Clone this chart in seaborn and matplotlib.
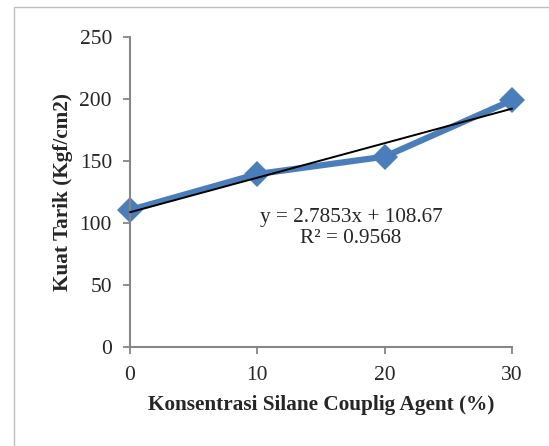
import numpy as np
import pandas as pd
import matplotlib
matplotlib.use("Agg")
import matplotlib.pyplot as plt
from matplotlib.patches import Rectangle
import seaborn as sns

# data
konsentrasi = [0, 10, 20, 30]
kuat_tarik = [110.5, 139.5, 153.5, 199.0]
slope = 2.7853
intercept = 108.67
persamaan = "y = 2.7853x + 108.67"
r_kuadrat = "R² = 0.9568"
y_ticks = [0, 50, 100, 150, 200, 250]
x_ticks = [0, 10, 20, 30]

sns.set_style("white")
plt.rcParams['font.family'] = ['Liberation Serif', 'DejaVu Serif']

df = pd.DataFrame({"x": konsentrasi, "y": kuat_tarik})

fig = plt.figure(figsize=(5.49, 4.46), dpi=100)
ax = fig.add_axes([0.2368, 0.222, 0.6958, 0.695])

# outer chart border
fig.patches.append(Rectangle((0.026, -0.1), 1.1, 1.084, transform=fig.transFigure,
                             fill=False, edgecolor="#BFBFBF", linewidth=1.0))

sns.lineplot(data=df, x="x", y="y", ax=ax, color="#4A7EBB", linewidth=4.5,
             marker="D", markersize=13, markeredgewidth=0, zorder=2, clip_on=False)

xt = np.array([konsentrasi[0], konsentrasi[-1]])
sns.lineplot(x=xt, y=slope * xt + intercept, ax=ax, color="black", linewidth=1.4,
             zorder=3, clip_on=False)

ax.set_xlim(0, 30)
ax.set_ylim(0, 250)
ax.set_xticks(x_ticks)
ax.set_yticks(y_ticks)
ax.tick_params(axis="both", labelsize=15.5, length=5, width=1.3, color="#868686",
               direction="out", bottom=True, left=True)
ax.tick_params(axis="y", pad=8)
ax.tick_params(axis="x", pad=8.5)
for s in ["top", "right"]:
    ax.spines[s].set_visible(False)
for s in ["left", "bottom"]:
    ax.spines[s].set_color("#868686")
    ax.spines[s].set_linewidth(1.5)

ax.set_xlabel("Konsentrasi Silane Couplig Agent (%)", fontsize=15.3, fontweight="bold",
              va="center")
ax.set_ylabel("Kuat Tarik (Kgf/cm2)", fontsize=15.3, fontweight="bold", va="center")
ax.xaxis.set_label_coords(0.5, -0.187)
ax.yaxis.set_label_coords(-0.175, 0.5)

ax.text(17.36, 104.8, persamaan, fontsize=15.3, ha="center", va="center")
ax.text(17.36, 87.1, r_kuadrat, fontsize=15.3, ha="center", va="center")

fig.savefig("out.png", dpi=100)
